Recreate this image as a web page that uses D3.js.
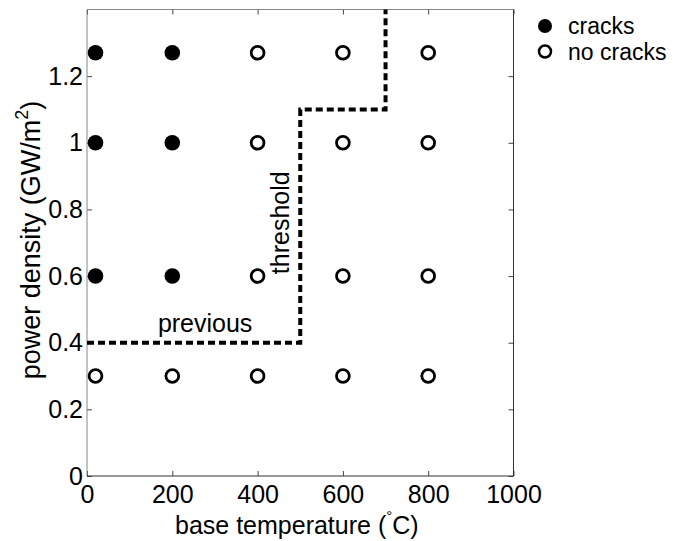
<!DOCTYPE html>
<html><head><meta charset="utf-8">
<script src="https://cdn.jsdelivr.net/npm/d3@7"></script>
<style>body{margin:0;background:#fff}svg{font-family:"Liberation Sans",Arial,sans-serif}</style>
</head><body>
<svg id="c" width="676" height="541"></svg>
<script>
const temps = [20, 200, 400, 600, 800];
const powers = [1.27, 1.0, 0.6, 0.3];
// crack status per power row (top to bottom) per temperature
const cracked = [
  [1, 1, 0, 0, 0],
  [1, 1, 0, 0, 0],
  [1, 1, 0, 0, 0],
  [0, 0, 0, 0, 0]
];
const thresholdX = [0, 500, 500, 700, 700];
const thresholdY = [0.4, 0.4, 1.1, 1.1, 1.4];
const xTicks = [0, 200, 400, 600, 800, 1000];
const yTicks = [0, 0.2, 0.4, 0.6, 0.8, 1, 1.2];
const legendLabels = ["cracks", "no cracks"];

const svg = d3.select("#c");
const L = 87, R = 513.5, T = 9.5, B = 476;
const x = d3.scaleLinear().domain([0, 1000]).range([L, R]);
const y = d3.scaleLinear().domain([0, 1.4]).range([B, T]);
const fs = 25;

// axes with inward ticks
svg.append("g").attr("transform", `translate(0,${B})`)
  .call(d3.axisBottom(x).tickValues(xTicks).tickSizeInner(-5).tickSizeOuter(0).tickPadding(9).tickFormat(d3.format("d")));
svg.append("g").attr("transform", `translate(${L},0)`)
  .call(d3.axisLeft(y).tickValues(yTicks).tickSizeInner(-5).tickSizeOuter(0).tickPadding(4).tickFormat(d => d3.format("~g")(d)));
svg.append("g").attr("transform", `translate(0,${T})`)
  .call(d3.axisTop(x).tickValues(xTicks).tickSizeInner(-5).tickSizeOuter(0).tickFormat(""));
svg.append("g").attr("transform", `translate(${R},0)`)
  .call(d3.axisRight(y).tickValues(yTicks).tickSizeInner(-5).tickSizeOuter(0).tickFormat(""));
svg.selectAll(".domain").remove();
svg.selectAll(".tick line").attr("stroke", "#444");
svg.selectAll(".tick text").attr("font-size", fs).attr("fill", "#000").attr("font-family", "Liberation Sans, Arial, sans-serif");

// box
const box = svg.append("g");
box.append("line").attr("x1", L).attr("x2", L).attr("y1", T).attr("y2", B).attr("stroke", "#888");
box.append("line").attr("x1", L).attr("x2", R).attr("y1", T).attr("y2", T).attr("stroke", "#888");
box.append("line").attr("x1", L).attr("x2", R).attr("y1", B).attr("y2", B).attr("stroke", "#333");
box.append("line").attr("x1", R).attr("x2", R).attr("y1", T).attr("y2", B).attr("stroke", "#333");

// threshold line
svg.append("path")
  .datum(thresholdX.map((v, i) => [v, thresholdY[i]]))
  .attr("d", d3.line().x(d => x(d[0])).y(d => y(d[1])))
  .attr("fill", "none").attr("stroke", "#000").attr("stroke-width", 4)
  .attr("stroke-dasharray", "7,4");

// points
const pts = [];
powers.forEach((p, i) => temps.forEach((t, j) => pts.push({t, p, c: cracked[i][j]})));
svg.append("g").selectAll("circle").data(pts).enter().append("circle")
  .attr("cx", d => x(d.t)).attr("cy", d => y(d.p))
  .attr("r", d => d.c ? 7.8 : 6.4)
  .attr("fill", d => d.c ? "#000" : "#fff")
  .attr("stroke", "#000").attr("stroke-width", d => d.c ? 0 : 2.8);

// annotations
svg.append("text").attr("x", x(277)).attr("y", y(0.4) - 11).attr("text-anchor", "middle")
  .attr("font-size", fs).text("previous");
svg.append("text").attr("transform", `translate(${x(473)},${y(0.76)}) rotate(-90)`)
  .attr("text-anchor", "middle").attr("font-size", fs).text("threshold");

// axis labels
const xl = svg.append("text").attr("x", 175).attr("y", 534).attr("text-anchor", "start").attr("font-size", fs);
xl.append("tspan").text("base temperature (");
xl.append("tspan").attr("font-size", 15).attr("dy", -13).text("\u00B0");
xl.append("tspan").attr("dy", 13).text("C)");

const ylab = svg.append("text").attr("transform", `translate(40,240) rotate(-90)`)
  .attr("text-anchor", "middle").attr("font-size", 27);
ylab.append("tspan").text("power density (GW/m");
ylab.append("tspan").attr("font-size", 18).attr("dy", -12).text("2");
ylab.append("tspan").attr("dy", 12).text(")");

// legend
const leg = legendLabels.map((label, i) => ({label, c: i === 0 ? 1 : 0}));
const lg = svg.append("g").selectAll("g").data(leg).enter().append("g")
  .attr("transform", (d, i) => `translate(545,${26 + i * 25.5})`);
lg.append("circle").attr("r", d => d.c ? 7 : 6).attr("fill", d => d.c ? "#000" : "#fff")
  .attr("stroke", "#000").attr("stroke-width", d => d.c ? 0 : 2.5);
lg.append("text").attr("x", 23).attr("dy", "0.35em").attr("font-size", 23).text(d => d.label);
</script>
</body></html>
